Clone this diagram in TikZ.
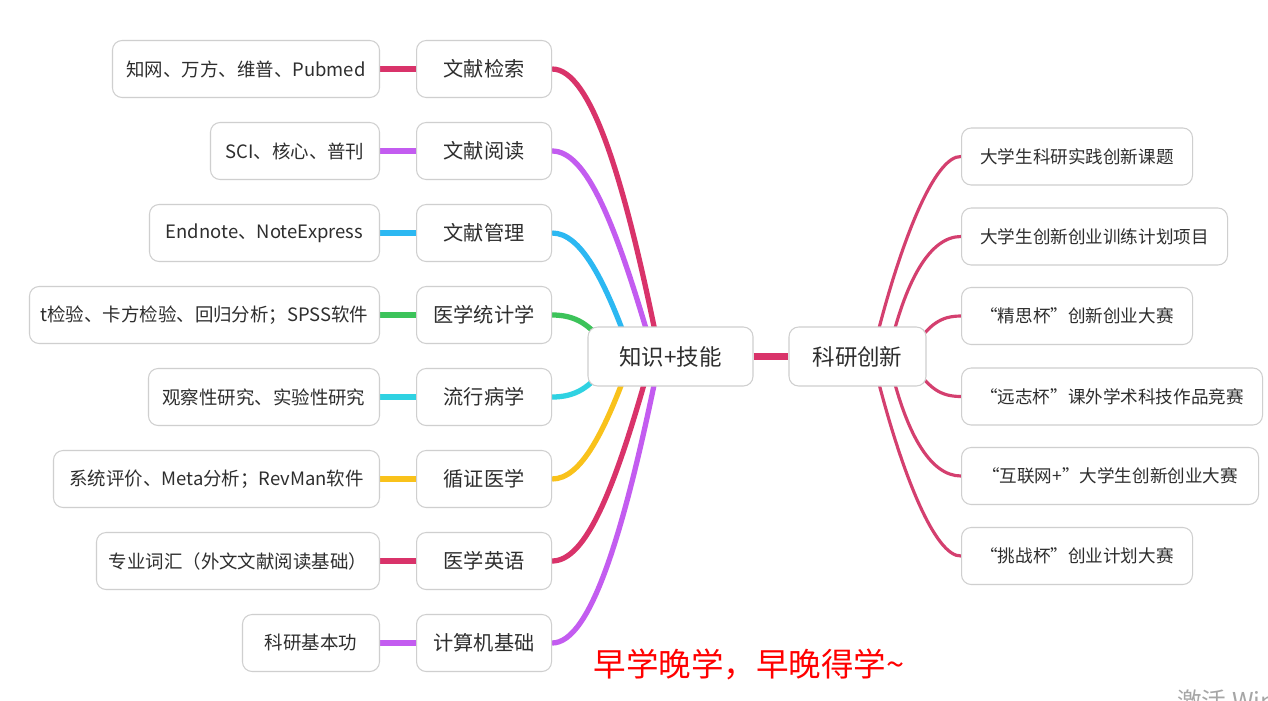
\documentclass[tikz,border=0pt]{standalone}
\usepackage{fontspec}
\setmainfont{Noto Sans CJK SC}
\definecolor{cred}{HTML}{D9336A}
\definecolor{cpur}{HTML}{C35CF0}
\definecolor{cblu}{HTML}{2CB8F2}
\definecolor{cgrn}{HTML}{3CC35A}
\definecolor{ccya}{HTML}{2FD2E2}
\definecolor{cyel}{HTML}{F9C21B}
\definecolor{rred}{HTML}{D43F6F}
\definecolor{bordergray}{HTML}{CFCFCF}
\definecolor{textgray}{HTML}{2E2E2E}
\pgfdeclarelayer{bg}
\pgfsetlayers{bg,main}
\begin{document}
\begin{tikzpicture}[x=0.02cm,y=-0.02cm,
  box/.style={draw=bordergray, line width=0.6pt, rounded corners=5.5pt, fill=white,
    text=textgray, minimum height=57*0.02cm, inner sep=0pt},
  detail/.style={box, anchor=east, minimum width=#1*0.02cm, font=\fontsize{10.5pt}{12pt}\selectfont},
  mid/.style={box, anchor=west, minimum width=135*0.02cm, font=\fontsize{11.5pt}{13pt}\selectfont},
  rbox/.style={box, anchor=west, minimum width=#1*0.02cm, font=\fontsize{10pt}{12pt}\selectfont},
  hub/.style={box, minimum height=59*0.02cm, minimum width=#1*0.02cm, font=\fontsize{12.8pt}{14pt}\selectfont},
  lk/.style={line width=3pt},
  rk/.style={line width=1.8pt, draw=rred}]
\useasboundingbox (0,0) rectangle (1268,700);

% hubs
\node[hub=165] (c1) at (670.5,356.5) {知识+技能};
\node[hub=137] (c2) at (857.5,356.5) {科研创新};

% middle nodes
\node[mid] (m1) at (416,69) {文献检索};
\node[mid] (m2) at (416,151) {文献阅读};
\node[mid] (m3) at (416,233) {文献管理};
\node[mid] (m4) at (416,315) {医学统计学};
\node[mid] (m5) at (416,397) {流行病学};
\node[mid] (m6) at (416,479) {循证医学};
\node[mid] (m7) at (416,561) {医学英语};
\node[mid] (m8) at (416,643) {计算机基础};

% detail nodes
\node[detail=267] (d1) at (380,69) {知网、万方、维普、Pubmed};
\node[detail=169] (d2) at (380,151) {SCI、核心、普刊};
\node[detail=230] (d3) at (380,233) {Endnote、NoteExpress};
\node[detail=350] (d4) at (380,315) {t检验、卡方检验、回归分析；SPSS软件};
\node[detail=231] (d5) at (380,397) {观察性研究、实验性研究};
\node[detail=326] (d6) at (380,479) {系统评价、Meta分析；RevMan软件};
\node[detail=283] (d7) at (380,561) {专业词汇（外文文献阅读基础）};
\node[detail=137] (d8) at (380,643) {科研基本功};

% right nodes
\node[rbox=231] (r1) at (961,156.5) {大学生科研实践创新课题};
\node[rbox=266] (r2) at (961,236.5) {大学生创新创业训练计划项目};
\node[rbox=231] (r3) at (961,316) {“精思杯”创新创业大赛};
\node[rbox=301] (r4) at (961,396.5) {“远志杯”课外学术科技作品竞赛};
\node[rbox=297] (r5) at (961,476) {“互联网+”大学生创新创业大赛};
\node[rbox=231] (r6) at (961,556) {“挑战杯”创业计划大赛};

% end points inside hubs
\coordinate (e1) at (660,356);
\coordinate (e2) at (654,356);
\coordinate (e3) at (632,356);
\coordinate (e4) at (605,345);
\coordinate (e5) at (605,367);
\coordinate (e6) at (632,356);
\coordinate (e7) at (652,356);
\coordinate (e8) at (660,356);
\coordinate (f1) at (872,356);
\coordinate (f2) at (888,356);
\coordinate (f3) at (915,345);
\coordinate (f4) at (915,368);

\begin{pgfonlayer}{bg}
\fill[white] (0,0) rectangle (1268,700);
% detail links
\draw[lk, cred] (d1.east) -- (m1.west);
\draw[lk, cpur] (d2.east) -- (m2.west);
\draw[lk, cblu] (d3.east) -- (m3.west);
\draw[lk, cgrn] (d4.east) -- (m4.west);
\draw[lk, ccya] (d5.east) -- (m5.west);
\draw[lk, cyel] (d6.east) -- (m6.west);
\draw[lk, cred] (d7.east) -- (m7.west);
\draw[lk, cpur] (d8.east) -- (m8.west);
% middle to hub
\draw[lk, cred] (m1.east) .. controls +(39,0) and (625,180) .. (e1);
\draw[lk, cpur] (m2.east) .. controls +(34,0) and (615,220) .. (e2);
\draw[lk, cblu] (m3.east) .. controls +(29,0) and (605,280) .. (e3);
\draw[lk, cgrn] (m4.east) .. controls +(24,0) and (590,325) .. (e4);
\draw[lk, ccya] (m5.east) .. controls +(24,0) and (590,387) .. (e5);
\draw[lk, cyel] (m6.east) .. controls +(29,0) and (605,432) .. (e6);
\draw[lk, cred] (m7.east) .. controls +(34,0) and (615,490) .. (e7);
\draw[lk, cpur] (m8.east) .. controls +(39,0) and (625,530) .. (e8);
% hub link
\draw[line width=3.6pt, cred] (c1.east) -- (c2.west);
% right links
\draw[rk] (r1.west) .. controls +(-26,-1) and (900,240) .. (f1);
\draw[rk] (r2.west) .. controls +(-31,0) and (905,280) .. (f2);
\draw[rk] (r3.west) .. controls +(-21,0) and (930,325) .. (f3);
\draw[rk] (r4.west) .. controls +(-21,0) and (930,388) .. (f4);
\draw[rk] (r5.west) .. controls +(-31,0) and (905,433) .. (f2);
\draw[rk] (r6.west) .. controls +(-26,1) and (900,472) .. (f1);
\end{pgfonlayer}

% bottom note
\node[text=red, font=\fontsize{18.5pt}{20pt}\selectfont] (note) at (749,664) {早学晚学，早晚得学\textasciitilde};

% watermark
\begin{scope}
\clip (0,0) rectangle (1268,700);
\node[anchor=north west, text=black!35, font=\fontsize{14pt}{16pt}\selectfont, inner sep=0pt] (wm) at (1177,689) {激活 Windows};
\end{scope}
\end{tikzpicture}
\end{document}
